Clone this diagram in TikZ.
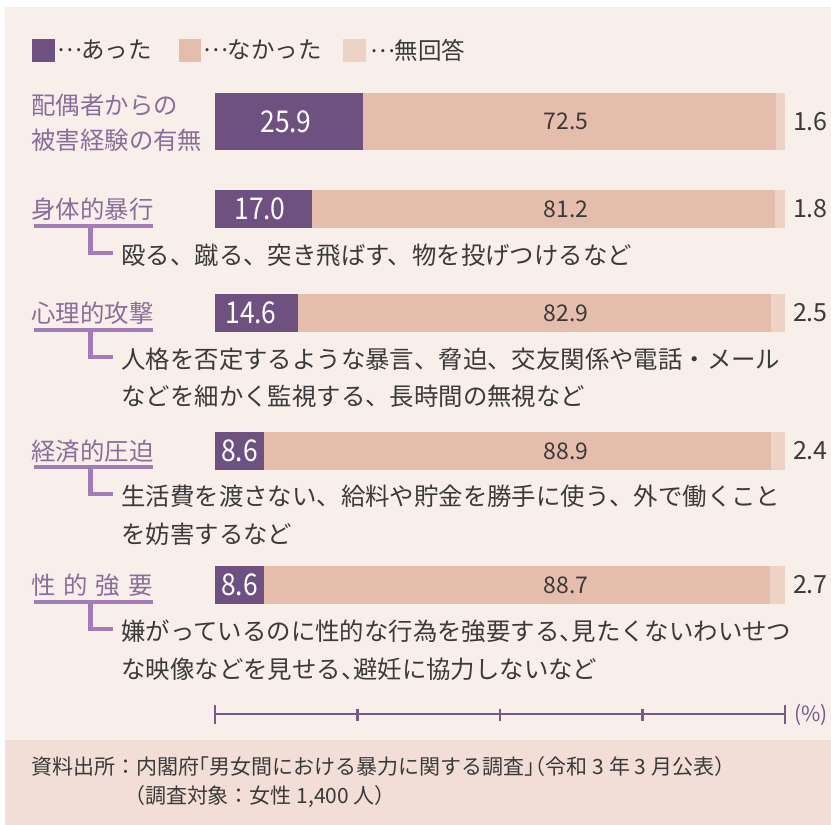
\documentclass[tikz,border=0pt]{standalone}
\usepackage{fontspec}
\setmainfont{Noto Sans CJK JP}
\definecolor{bgc}{HTML}{F8EEEA}
\definecolor{footc}{HTML}{F2DED6}
\definecolor{ca}{HTML}{6E5181}
\definecolor{cb}{HTML}{E5BDAD}
\definecolor{cc}{HTML}{EFD2C6}
\definecolor{labc}{HTML}{8A6D9A}
\definecolor{linec}{HTML}{A27CB9}
\definecolor{txtc}{HTML}{3A3A3A}
\definecolor{axisc}{HTML}{78598A}
\newcommand{\hwp}[1]{\makebox[0.5em][l]{#1}}
\newcommand{\hwo}[1]{\makebox[0.5em][r]{#1}}
\newcommand{\fwell}{\makebox[1em][c]{\raisebox{0.3em}{…}}}
\newcommand{\cnd}[1]{\scalebox{0.88}[1]{#1}}
\begin{document}
\begin{tikzpicture}[x=1pt,y=-1pt,
  every node/.style={inner sep=0pt,outer sep=0pt},
  lab/.style={anchor=west,text=labc,font=\fontsize{24.4}{24.4}\selectfont},
  desc/.style={anchor=west,text=txtc,font=\fontsize{24.4}{24.4}\selectfont},
  leg/.style={anchor=west,text=txtc,font=\fontsize{23.5}{23.5}\selectfont},
  wnum/.style={text=white,font=\fontsize{30}{30}\selectfont},
  snum/.style={text=txtc,font=\fontsize{23}{23}\selectfont},
  rnum/.style={anchor=west,text=txtc,font=\fontsize{25}{25}\selectfont},
  foot/.style={anchor=west,text=txtc,font=\fontsize{21}{21}\selectfont},
  uline/.style={draw=linec,line width=3.5pt},
  conn/.style={draw=linec,line width=4.2pt},
  axis/.style={draw=axisc,line width=2.3pt}]
\useasboundingbox (0,0) rectangle (831,825);
\fill[white] (0,0) rectangle (831,825);
\fill[bgc] (5,7) rectangle (831,740);
\fill[footc] (5,740) rectangle (831,825);

% legend
\fill[ca] (32,39) rectangle (55,62);
\node[leg] (lg1) at (58,50) {\fwell あった};
\fill[cb] (179,39) rectangle (201,62);
\node[leg] (lg2) at (204,50) {\fwell なかった};
\fill[cc] (343,39) rectangle (366,62);
\node[leg] (lg3) at (371,50) {\fwell 無回答};

% bar 1
\node[lab] (L1a) at (31.5,105) {配偶者からの};
\node[lab] (L1b) at (31.5,140) {被害経験の有無};
\fill[ca] (215,93) rectangle (362.63,150);
\fill[cb] (362.63,93) rectangle (775.88,150);
\fill[cc] (775.88,93) rectangle (785,150);
\node[wnum] (N1a) at (286,121.5) {\cnd{25.9}};
\node[snum] (N1b) at (566,121.5) {72.5};
\node[rnum] (N1c) at (793,121.5) {1.6};

% bar 2
\node[lab] (L2) at (31.5,209) {身体的暴行};
\fill[ca] (215,190) rectangle (311.9,228);
\fill[cb] (311.9,190) rectangle (774.74,228);
\fill[cc] (774.74,190) rectangle (785,228);
\node[wnum] (N2a) at (260,209) {\cnd{17.0}};
\node[snum] (N2b) at (566,209) {81.2};
\node[rnum] (N2c) at (793,209) {1.8};
\coordinate (U2a) at (34,226); \coordinate (U2b) at (153,226);
\draw[uline] (U2a) -- (U2b);
\node[desc] (T2) at (121.5,255) {殴る、蹴る、突き飛ばす、物を投げつけるなど};
\coordinate (C2) at (90.5,226); \coordinate (E2) at (112.5,253);
\draw[conn] (C2) |- (E2);

% bar 3
\node[lab] (L3) at (31.5,313) {心理的攻撃};
\fill[ca] (215,294) rectangle (298.22,332);
\fill[cb] (298.22,294) rectangle (770.75,332);
\fill[cc] (770.75,294) rectangle (785,332);
\node[wnum] (N3a) at (251,313) {\cnd{14.6}};
\node[snum] (N3b) at (566,313) {82.9};
\node[rnum] (N3c) at (793,313) {2.5};
\coordinate (U3a) at (34,330); \coordinate (U3b) at (153,330);
\draw[uline] (U3a) -- (U3b);
\node[desc] (T3a) at (121.5,359) {人格を否定するような暴言、脅迫、交友関係や電話・メール};
\node[desc] (T3b) at (121.5,396) {などを細かく監視する、長時間の無視など};
\coordinate (C3) at (90.5,330); \coordinate (E3) at (112.5,357);
\draw[conn] (C3) |- (E3);

% bar 4
\node[lab] (L4) at (31.5,451) {経済的圧迫};
\fill[ca] (215,432) rectangle (264.02,470);
\fill[cb] (264.02,432) rectangle (770.75,470);
\fill[cc] (770.75,432) rectangle (785,470);
\node[wnum] (N4a) at (239.5,451) {\cnd{8.6}};
\node[snum] (N4b) at (566,451) {88.9};
\node[rnum] (N4c) at (793,451) {2.4};
\coordinate (U4a) at (34,467); \coordinate (U4b) at (153,467);
\draw[uline] (U4a) -- (U4b);
\node[desc] (T4a) at (121.5,496) {生活費を渡さない、給料や貯金を勝手に使う、外で働くこと};
\node[desc] (T4b) at (121.5,534) {を妨害するなど};
\coordinate (C4) at (90.5,467); \coordinate (E4) at (112.5,494);
\draw[conn] (C4) |- (E4);

% bar 5
\node[lab] (L5) at (31.5,585) {\makebox[121pt][s]{性\hfill 的\hfill 強\hfill 要}};
\fill[ca] (215,566) rectangle (264.02,604);
\fill[cb] (264.02,566) rectangle (769.61,604);
\fill[cc] (769.61,566) rectangle (785,604);
\node[wnum] (N5a) at (239.5,585) {\cnd{8.6}};
\node[snum] (N5b) at (566,585) {88.7};
\node[rnum] (N5c) at (793,585) {2.7};
\coordinate (U5a) at (34,602); \coordinate (U5b) at (153,602);
\draw[uline] (U5a) -- (U5b);
\node[desc] (T5a) at (121.5,631) {嫌がっているのに性的な行為を強要する\hwp{、}見たくないわいせつ};
\node[desc] (T5b) at (121.5,669) {な映像などを見せる\hwp{、}避妊に協力しないなど};
\coordinate (C5) at (90.5,602); \coordinate (E5) at (112.5,629);
\draw[conn] (C5) |- (E5);

% axis
\coordinate (A0) at (215,714); \coordinate (A4) at (785,714);
\draw[axis] (A0) -- (A4);
\draw[axis] (215,705) -- (215,724);
\draw[axis] (785,705) -- (785,724);
\foreach \t in {357.5,500,642.5} \draw[axis] (\t,709) -- (\t,721);
\node[anchor=west,text=axisc,font=\fontsize{21}{21}\selectfont] (pct) at (794,715) {(\%)};

% footer
\node[foot] (F1) at (31.5,767) {資料出所：内閣府\hwo{「}男女間における暴力に関する調査\hwp{」}\hwo{（}令和 3 年 3 月公表\hwp{）}};
\node[foot] (F2) at (124,796) {（調査対象：女性 1,400 人）};
\end{tikzpicture}
\end{document}
